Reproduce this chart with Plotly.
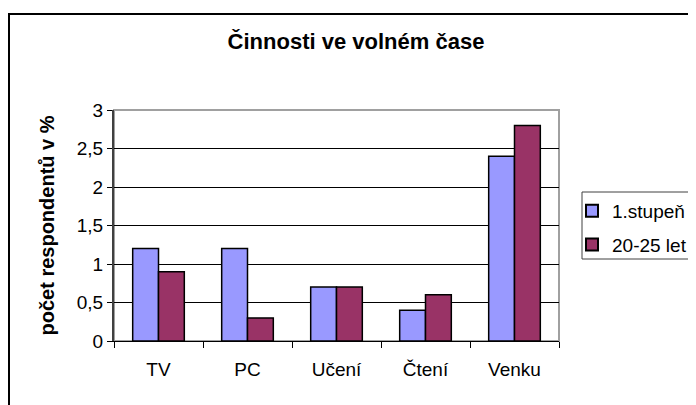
import plotly.graph_objects as go

categories = ["TV", "PC", "Učení", "Čtení", "Venku"]
series_names = ["1.stupeň", "20-25 let"]
values_1stupen = [1.2, 1.2, 0.7, 0.4, 2.4]
values_2025 = [0.9, 0.3, 0.7, 0.6, 2.8]
y_ticks = [0, 0.5, 1, 1.5, 2, 2.5, 3]
y_tick_labels = ["0", "0,5", "1", "1,5", "2", "2,5", "3"]
colors = ["#9999FF", "#993366"]

OFF = 8  # page body margin
W, H = 720, 405 - OFF
L, R, T, B = 114, 559, 110, 341  # plot area in page pixels
pw, ph = R - L, B - T

def px(x):
    return (x - L) / pw

def py(y):
    return 1 - (y - T) / ph

FONT = "Liberation Sans, Arial, sans-serif"

fig = go.Figure()
for name, vals, col, grp in [(series_names[0], values_1stupen, colors[0], "a"),
                             (series_names[1], values_2025, colors[1], "b")]:
    fig.add_trace(go.Bar(
        x=categories, y=vals, name=name, legendgroup=grp,
        marker=dict(color=col, line=dict(color="black", width=1.5)),
    ))

fig.update_layout(
    width=W, height=H,
    margin=dict(l=L - OFF, r=W - (R - OFF), t=T - OFF, b=H - (B - OFF), pad=0,
                autoexpand=False),
    paper_bgcolor="white", plot_bgcolor="white",
    barmode="group", bargap=0.42, bargroupgap=0,
    font=dict(family=FONT, size=19, color="black"),
    title=dict(text="<b>Činnosti ve volném čase</b>", x=px(356), xref="paper",
               xanchor="center", y=1 - (41 - OFF) / H, yanchor="middle",
               font=dict(size=22, family=FONT, color="black")),
    showlegend=True,
    legend=dict(x=px(572), y=py(192), xanchor="left", yanchor="top",
                bgcolor="rgba(0,0,0,0)", borderwidth=0,
                font=dict(size=19, family=FONT, color="black"),
                tracegroupgap=6, itemsizing="constant"),
    xaxis=dict(showgrid=False, ticks="outside", tickson="boundaries",
               ticklen=6, tickcolor="black", showline=True, linecolor="black",
               linewidth=1, tickfont=dict(size=19), ticklabelstandoff=11,
               fixedrange=True),
    yaxis=dict(range=[0, 3], tickvals=y_ticks, ticktext=y_tick_labels,
               showgrid=True, gridcolor="black", gridwidth=1,
               ticks="outside", ticklen=5, tickcolor="black",
               showline=True, linecolor="#404040", linewidth=2,
               zeroline=False, tickfont=dict(size=19), fixedrange=True),
    annotations=[dict(text="<b>počet respondentů v %</b>", x=px(46), y=0.5,
                      xref="paper", yref="paper", textangle=-90,
                      xanchor="center", yanchor="middle", showarrow=False,
                      font=dict(size=20, family=FONT, color="black"))],
    shapes=[
        # outer chart border
        dict(type="rect", xref="paper", yref="paper", x0=px(9), y0=py(460),
             x1=px(760), y1=py(14), line=dict(color="black", width=2),
             layer="above"),
        # plot area border
        dict(type="rect", xref="paper", yref="paper", x0=0, y0=0, x1=1, y1=1,
             line=dict(color="#A0A0A0", width=2), layer="below"),
        # legend box
        dict(type="rect", xref="paper", yref="paper", x0=px(582), y0=py(259),
             x1=px(740), y1=py(192), line=dict(color="#404040", width=1),
             layer="above"),
    ],
)

fig.write_html("out.html")
